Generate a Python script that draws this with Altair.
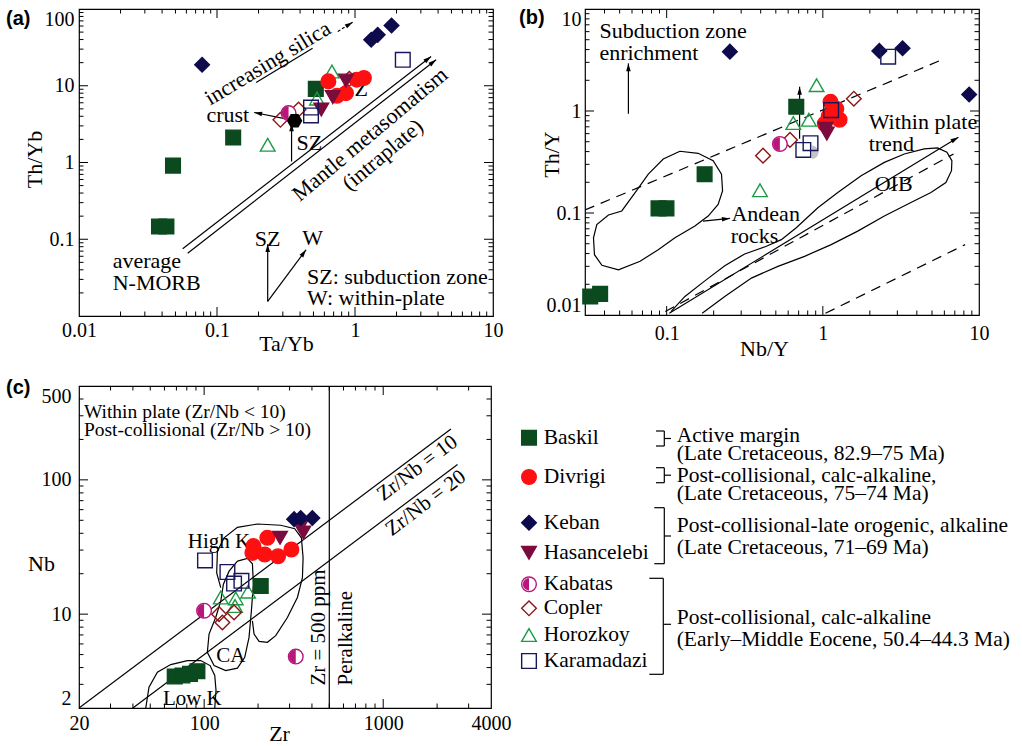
import altair as alt
import pandas as pd

SERIF = "Liberation Serif"
SANS = "Liberation Sans"

# ---------------- sample groups (legend order) ----------------
groups = ["Baskil", "Divrigi", "Keban", "Hasancelebi", "Kabatas", "Copler", "Horozkoy", "Karamadazi"]
group_shapes = ["square", "circle", "diamond", "triangle-down", "circle", "diamond", "triangle-up", "square"]
group_strokes = ["#0b4a1e", "#ff1010", "#0d0b4b", "#7a0c3e", "#b8167a", "#8c1414", "#1c9a46", "#17175c"]
group_fills = ["#0b4a1e", "#ff1010", "#0d0b4b", "#7a0c3e", "white", "transparent", "transparent", "transparent"]
group_sizes = [215, 215, 175, 205, 185, 155, 195, 175]
KAB = "#b8167a"

LEFT_HALF = "M0,-1A1,1,0,0,0,0,1Z"
RIGHT_HALF = "M0,-1A1,1,0,0,1,0,1Z"
HEXAGON = "M-1,0L-0.5,-0.87L0.5,-0.87L1,0L0.5,0.87L-0.5,0.87Z"
ARROW = "M0,0L0.55,1.9L-0.55,1.9Z"

# ---------------- (a) Ta/Yb vs Th/Yb ----------------
a_group = (["Baskil"] * 5 + ["Horozkoy"] * 3 + ["Copler"] * 3 + ["Divrigi"] * 5
           + ["Hasancelebi"] * 3 + ["Keban"] * 4 + ["Kabatas"] + ["Karamadazi"] * 3)
a_ta_yb = [0.038, 0.043, 0.048, 0.131, 0.52,
           0.233, 0.68, 0.53,
           0.288, 0.39, 0.91,
           0.641, 1.03, 1.16, 0.74, 0.86,
           0.86, 0.69, 0.57,
           0.078, 1.31, 1.46, 1.84,
           0.33,
           0.48, 0.48, 2.22]
a_th_yb = [0.147, 0.147, 0.91, 2.12, 9.1,
           1.70, 15.3, 6.8,
           3.6, 4.9, 12.3,
           11.4, 12.0, 12.6, 7.4, 8.0,
           11.7, 7.1, 4.9,
           18.8, 39.7, 46.1, 61,
           4.4,
           5.2, 4.1, 21.8]
a_crust_x = [0.365]
a_crust_y = [3.5]

a_arrow1 = ([0.0564, 3.56], [0.0752, 24.1])
a_arrow2 = ([0.0613, 3.87], [0.0658, 21.8])
a_silica = ([0.192, 0.493], [11.0, 30.8])
a_silica_arrow = ([0.75, 0.962], [50.9, 67.3])
a_crust_arrow = ([0.316, 0.186], [3.71, 4.48])
a_sz_arrow = ([0.347, 0.347], [1.03, 3.25])
a_key_sz = ([0.233, 0.233], [0.0155, 0.0863])
a_key_w = ([0.233, 0.442], [0.0155, 0.073])
a_head_x = [3.56, 3.87, 0.962, 0.186, 0.347, 0.233, 0.442]
a_head_y = [24.1, 21.8, 67.3, 4.48, 3.25, 0.0863, 0.073]
a_head_ang = [52, 52, 58, 281, 0, 0, 36]

a_txt_c = ["increasing silica", "crust", "SZ", "Mantle metasomatism", "(intraplate)", "SZ", "W"]
a_txt_c_x = [0.233, 0.1197, 0.467, 1.285, 1.585, 0.233, 0.494]
a_txt_c_y = [19.7, 4.18, 1.78, 2.34, 1.26, 0.1014, 0.103]
a_txt_c_ang = [329, 0, 0, 320, 320, 0, 0]
a_txt_l = ["average", "N-MORB", "SZ: subduction zone", "W: within-plate"]
a_txt_l_x = [0.01754, 0.01754, 0.449, 0.449]
a_txt_l_y = [0.0513, 0.0267, 0.0327, 0.0174]
a_txt_under = ["SZ"]
a_txt_under_x = [1.0]
a_txt_under_y = [8.94]

# ---------------- (b) Nb/Y vs Th/Y ----------------
b_group = (["Baskil"] * 6 + ["Horozkoy"] * 4 + ["Copler"] * 3 + ["Divrigi"] * 5
           + ["Hasancelebi"] * 2 + ["Keban"] * 4 + ["Kabatas"] + ["Karamadazi"] * 4)
b_nb_y = [0.0324, 0.0375, 0.0887, 0.0997, 0.175, 0.676,
          0.912, 0.647, 0.814, 0.396,
          0.414, 0.616, 1.58,
          1.12, 1.22, 1.03, 1.28, 1.09,
          1.04, 1.06,
          0.254, 2.30, 3.24, 8.65,
          0.531,
          2.62, 1.13, 0.834, 0.75]
b_th_y = [0.0152, 0.0161, 0.111, 0.111, 0.240, 1.10,
          1.79, 0.762, 0.82, 0.167,
          0.365, 0.521, 1.32,
          1.23, 1.05, 0.75, 0.82, 0.89,
          0.67, 0.60,
          3.82, 3.88, 4.12, 1.45,
          0.475,
          3.41, 1.02, 0.483, 0.415]
b_grey_x = [0.85]
b_grey_y = [0.394]

b_andean_x = [0.1216, 0.159, 0.1985, 0.2245, 0.228, 0.2136, 0.1844, 0.1517, 0.113, 0.0883, 0.0676,
              0.0491, 0.0385, 0.0345, 0.034, 0.0357, 0.0424, 0.0516, 0.0628, 0.0763, 0.0951, 0.1216]
b_andean_y = [0.403, 0.385, 0.326, 0.2405, 0.165, 0.1216, 0.0933, 0.0744, 0.0571, 0.0437, 0.0336,
              0.0277, 0.0307, 0.039, 0.0571, 0.077, 0.0955, 0.1047, 0.1585, 0.2405, 0.338, 0.403]
b_oib_x = [0.1065, 0.1309, 0.1756, 0.2356, 0.316, 0.435, 0.5425, 0.676, 0.929, 1.247, 1.759, 2.477,
           3.325, 4.457, 5.426, 6.229, 6.705, 6.666, 6.137, 4.922, 3.668, 2.477, 1.673, 1.131, 0.764,
           0.516, 0.349, 0.2356, 0.1688]
b_oib_y = [0.0108, 0.0152, 0.0216, 0.0304, 0.0397, 0.0472, 0.0548, 0.0716, 0.1127, 0.1587, 0.2317,
           0.3137, 0.379, 0.4246, 0.4345, 0.3938, 0.326, 0.2598, 0.199, 0.1587, 0.1265, 0.0934, 0.0664,
           0.049, 0.0376, 0.030, 0.023, 0.0152, 0.0104]
b_dash1 = ([0.03, 6.08], [0.107, 3.28])
b_dash2 = ([0.098, 6.87], [0.0108, 0.379])
b_dash3 = ([1.04, 8.15], [0.0104, 0.049])
b_trend = ([0.104, 7.38], [0.0104, 0.553])
b_sze = ([0.0569, 0.0569], [0.94, 2.93])
b_andean_arrow = ([0.171, 0.254], [0.0834, 0.0885])
b_baskil_arrow = ([0.71, 0.71], [0.533, 1.73])
b_head_x = [7.38, 0.0569, 0.254, 0.71]
b_head_y = [0.553, 2.93, 0.0885, 1.73]
b_head_ang = [59, 0, 84, 0]

b_txt_l = ["Subduction zone", "enrichment", "Within plate", "trend", "Andean", "rocks"]
b_txt_l_x = [0.0371, 0.0371, 1.966, 1.966, 0.26, 0.2574]
b_txt_l_y = [6.03, 3.68, 0.778, 0.475, 0.0968, 0.0593]
b_txt_c = ["OIB"]
b_txt_c_x = [2.84]
b_txt_c_y = [0.191]

# ---------------- (c) Zr vs Nb ----------------
c_group = (["Baskil"] * 5 + ["Horozkoy"] * 4 + ["Copler"] * 3 + ["Divrigi"] * 6
           + ["Hasancelebi"] * 3 + ["Keban"] * 3 + ["Kabatas"] * 2 + ["Karamadazi"] * 4)
c_zr = [68.5, 75.6, 83.4, 91.7, 207,
        123.8, 150.1, 175.9, 148.8,
        121.1, 126.4, 146.9,
        188.4, 225.4, 186.0, 217.9, 258.6, 307,
        265.3, 347.5, 358,
        318, 346, 402,
        99.9, 324.8,
        101.1, 134.9, 146.9, 161.5]
c_nb = [3.43, 3.49, 3.59, 3.76, 16.2,
        13.3, 13.1, 14.7, 11.5,
        10.0, 8.67, 10.3,
        32.1, 37.0, 28.6, 27.8, 27.0, 30.3,
        37.0, 45.5, 40.5,
        51, 52, 52,
        10.6, 4.83,
        25.1, 20.6, 16.9, 17.7]

c_highk_zr = [123.8, 117.5, 118.6, 129.2, 153.4, 198.4, 267.9, 320.6, 349.3, 356.9, 353.9, 331.8,
              291.7, 251.0, 225.6, 202.6, 190.0, 186.0]
c_highk_nb = [15.75, 20.3, 29.4, 37.0, 44.3, 46.9, 45.9, 43.3, 37.0, 26.3, 18.7, 13.3,
              9.44, 6.91, 6.17, 6.27, 7.11, 8.92]
c_ca_zr = [153.4, 174.4, 186.0, 188.4, 183.6, 178.1, 168.5, 153.4, 132.0, 113.6, 104.2, 106.5,
           116.0, 123.8, 128.1, 137.8, 153.4]
c_ca_nb = [24.8, 26.0, 23.7, 16.7, 10.6, 6.71, 4.77, 3.96, 3.80, 4.14, 5.20, 7.11,
           9.44, 12.5, 16.7, 20.9, 24.8]
c_lowk_zr = [47.2, 49.2, 54.8, 65.1, 80.6, 95.7, 107.9, 114.6, 116.5, 114.6]
c_lowk_nb = [2.0, 2.86, 3.70, 4.21, 4.51, 4.51, 4.14, 3.49, 2.70, 2.0]
c_ratio10 = ([20, 2390], [2, 239])
c_ratio20 = ([40, 2600], [2, 130])
c_zr500 = ([500, 500], [2, 500])

c_txt_top = ["Within plate (Zr/Nb < 10)", "Post-collisional (Zr/Nb > 10)"]
c_txt_top_x = [21.3, 21.3]
c_txt_top_y = [320, 234.6]
c_txt_c = ["High K", "CA", "Low K", "Zr/Nb = 10", "Zr/Nb = 20", "Zr = 500 ppm", "Peralkaline"]
c_txt_c_x = [121.1, 140.8, 85.9, 1553, 1730, 438.5, 618]
c_txt_c_y = [34.5, 4.91, 2.35, 121.9, 67.1, 7.96, 6.62]
c_txt_c_ang = [0, 0, 0, 323, 323, 270, 270]

# ---------------- legend block (page-pixel layout offsets, x from 500, y from 385) ----------------
leg_row_y = [51.7, 91, 136.7, 166.7, 198.3, 222.3, 249, 275]
leg_desc = ["Active margin", "(Late Cretaceous, 82.9\u201375 Ma)",
            "Post-collisional, calc-alkaline,", "(Late Cretaceous, 75\u201374 Ma)",
            "Post-collisional-late orogenic, alkaline", "(Late Cretaceous, 71\u201369 Ma)",
            "Post-collisional, calc-alkaline", "(Early\u2013Middle Eocene, 50.4\u201344.3 Ma)"]
leg_desc_y = [50, 68.3, 90, 108.3, 140, 161.7, 232.3, 254.3]
brk_x1 = [163.3, 155, 155, 163.3, 163.3, 155, 155, 163.3, 163.3, 153.3, 153.3, 163.3, 162.3, 148.3, 148.3, 162.3]
brk_x2 = [163.3, 163.3, 163.3, 170, 163.3, 163.3, 163.3, 170, 163.3, 163.3, 163.3, 170, 162.3, 162.3, 162.3, 170]
brk_y1 = [45, 45, 60, 52.5, 81.7, 81.7, 96.7, 89.2, 121.7, 121.7, 177.7, 150, 192.3, 192.3, 288.3, 238.3]
brk_y2 = [60, 45, 60, 52.5, 96.7, 81.7, 96.7, 89.2, 177.7, 121.7, 177.7, 150, 288.3, 192.3, 288.3, 238.3]


# ---------------- helpers ----------------
def minor_ticks(lo, hi):
    out = []
    for e in range(-3, 5):
        for m in range(2, 10):
            v = m * 10.0 ** e
            if lo * 1.001 < v < hi * 0.999:
                out.append(v)
    return out


def major_ticks(lo, hi):
    return [10.0 ** e for e in range(-3, 5) if lo * 1.001 < 10.0 ** e < hi * 0.999]


class Panel:
    def __init__(self, xs, ys, xaxis, yaxis):
        self.xs, self.ys, self.xaxis, self.yaxis = xs, ys, xaxis, yaxis

    def xy(self):
        return dict(x=alt.X("x:Q", scale=self.xs, axis=self.xaxis),
                    y=alt.Y("y:Q", scale=self.ys, axis=self.yaxis))

    def ticks(self, xdom, ydom, W, H):
        layers = []
        for vals, L in ((major_ticks(*xdom), 9), (minor_ticks(*xdom), 4.5)):
            base = alt.Chart(pd.DataFrame({"x": vals})).mark_rule(color="black", strokeWidth=1)
            xe = alt.X("x:Q", scale=self.xs, axis=self.xaxis)
            layers.append(base.encode(x=xe, y=alt.value(H), y2=alt.value(H - L)))
            layers.append(base.encode(x=xe, y=alt.value(0), y2=alt.value(L)))
        for vals, L in ((major_ticks(*ydom), 9), (minor_ticks(*ydom), 4.5)):
            base = alt.Chart(pd.DataFrame({"y": vals})).mark_rule(color="black", strokeWidth=1)
            ye = alt.Y("y:Q", scale=self.ys, axis=self.yaxis)
            layers.append(base.encode(y=ye, x=alt.value(0), x2=alt.value(L)))
            layers.append(base.encode(y=ye, x=alt.value(W), x2=alt.value(W - L)))
        return layers

    def lines(self, segs, dash=None, width=1.2):
        rows = []
        for i, (sx, sy) in enumerate(segs):
            for j, (u, v) in enumerate(zip(sx, sy)):
                rows.append({"x": u, "y": v, "id": i, "o": j})
        kw = dict(color="black", strokeWidth=width, clip=True)
        if dash:
            kw["strokeDash"] = dash
        return alt.Chart(pd.DataFrame(rows)).mark_line(**kw).encode(
            **self.xy(), detail="id:N", order="o:Q")

    def heads(self, hx, hy, ha):
        df = pd.DataFrame({"x": hx, "y": hy, "a": ha})
        return alt.Chart(df).mark_point(shape=ARROW, filled=True, color="black", size=70,
                                        opacity=1).encode(**self.xy(), angle=alt.Angle("a:Q", scale=None))

    def text(self, tt, tx, ty, align="center", size=22, angles=None):
        df = pd.DataFrame({"x": tx, "y": ty, "t": tt, "a": angles if angles else [0] * len(tt)})
        return alt.Chart(df).mark_text(font=SERIF, fontSize=size, align=align, baseline="middle",
                                       color="black").encode(
            **self.xy(), text="t:N", angle=alt.Angle("a:Q", scale=None))

    def single(self, px, py, shape, color, size):
        df = pd.DataFrame({"x": px, "y": py})
        return alt.Chart(df).mark_point(shape=shape, filled=True, color=color, size=size,
                                        opacity=1).encode(**self.xy())

    def points(self, px, py, pg, k=1.0):
        df = pd.DataFrame({"x": px, "y": py, "group": pg})
        sizes = [s * k for s in group_sizes]
        main = alt.Chart(df).mark_point(opacity=1, strokeWidth=1.4).encode(
            **self.xy(),
            shape=alt.Shape("group:N", scale=alt.Scale(domain=groups, range=group_shapes), legend=None),
            fill=alt.Fill("group:N", scale=alt.Scale(domain=groups, range=group_fills), legend=None),
            stroke=alt.Stroke("group:N", scale=alt.Scale(domain=groups, range=group_strokes), legend=None),
            size=alt.Size("group:N", scale=alt.Scale(domain=groups, range=sizes), legend=None),
        )
        half = alt.Chart(df).transform_filter(alt.datum.group == "Kabatas").mark_point(
            shape=LEFT_HALF, filled=True, color=KAB, size=group_sizes[4] * k, opacity=1).encode(**self.xy())
        return [main, half]


def letter_layer(t, x, y):
    return alt.Chart(alt.Data(values=[{}])).mark_text(
        font=SANS, fontWeight="bold", fontSize=20, align="left", baseline="middle", color="black"
    ).encode(x=alt.value(x), y=alt.value(y), text=alt.value(t))


def bottom_axis(vals, title, tx, ty, pad):
    return alt.Axis(values=vals, format="~g", title=title, ticks=False, grid=False, domain=False,
                    labelFont=SERIF, labelFontSize=20, labelColor="black", labelPadding=pad,
                    labelOverlap=False, labelFlush=False,
                    titleFont=SERIF, titleFontSize=22, titleFontWeight="normal", titleColor="black",
                    titleX=tx, titleY=ty, titleAlign="center", titleBaseline="middle", titleAngle=0)


def left_axis(vals, title, tx, ty, pad, angle=270):
    return alt.Axis(values=vals, format="~g", title=title, ticks=False, grid=False, domain=False,
                    labelFont=SERIF, labelFontSize=20, labelColor="black", labelPadding=pad,
                    labelOverlap=False, labelFlush=True,
                    titleFont=SERIF, titleFontSize=22, titleFontWeight="normal", titleColor="black",
                    titleX=tx, titleY=ty, titleAlign="center", titleBaseline="middle", titleAngle=angle)


# ---------------- panel (a) ----------------
WA, HA = 414, 307
xa_dom, ya_dom = (0.01, 10), (0.01, 100)
pa = Panel(alt.Scale(type="log", domain=list(xa_dom), nice=False),
           alt.Scale(type="log", domain=list(ya_dom), nice=False),
           bottom_axis([0.01, 0.1, 1, 10], "Ta/Yb", 207, 27, 4),
           left_axis([0.1, 1, 10, 100], "Th/Yb", -45, 150, 5))
layers_a = [
    pa.text(a_txt_under, a_txt_under_x, a_txt_under_y),
    pa.lines([a_arrow1, a_arrow2, a_silica, a_crust_arrow, a_sz_arrow, a_key_sz, a_key_w]),
    pa.lines([a_silica_arrow], dash=[3, 2]),
] + pa.points(a_ta_yb, a_th_yb, a_group) + [
    pa.single(a_crust_x, a_crust_y, HEXAGON, "black", 240),
    pa.heads(a_head_x, a_head_y, a_head_ang),
    pa.text(a_txt_c, a_txt_c_x, a_txt_c_y, angles=a_txt_c_ang),
    pa.text(a_txt_l, a_txt_l_x, a_txt_l_y, align="left"),
    letter_layer("(a)", -73, 9.5),
] + pa.ticks(xa_dom, ya_dom, WA, HA)
panel_a = alt.layer(*layers_a).properties(width=WA, height=HA)

# ---------------- panel (b) ----------------
WB, HB = 394, 306
xb_dom, yb_dom = (0.03, 10), (0.01, 10)
pb = Panel(alt.Scale(type="log", domain=list(xb_dom), nice=False),
           alt.Scale(type="log", domain=list(yb_dom), nice=False),
           bottom_axis([0.1, 1, 10], "Nb/Y", 179, 33, 8),
           left_axis([0.01, 0.1, 1, 10], "Th/Y", -34, 145, 4))
layers_b = [
    pb.lines([(b_andean_x, b_andean_y), (b_oib_x, b_oib_y), b_trend, b_sze, b_andean_arrow, b_baskil_arrow]),
    pb.lines([b_dash1, b_dash2, b_dash3], dash=[10, 7]),
    pb.single(b_grey_x, b_grey_y, RIGHT_HALF, "#c4c4c4", 180),
] + pb.points(b_nb_y, b_th_y, b_group) + [
    pb.heads(b_head_x, b_head_y, b_head_ang),
    pb.text(b_txt_l, b_txt_l_x, b_txt_l_y, align="left"),
    pb.text(b_txt_c, b_txt_c_x, b_txt_c_y),
    letter_layer("(b)", -66, 9.2),
] + pb.ticks(xb_dom, yb_dom, WB, HB)
panel_b = alt.layer(*layers_b).properties(width=WB, height=HB)

# ---------------- panel (c) ----------------
WC, HC = 412, 322
xc_dom, yc_dom = (20, 4000), (2, 500)
pc = Panel(alt.Scale(type="log", domain=list(xc_dom), nice=False),
           alt.Scale(type="log", domain=list(yc_dom), nice=False),
           bottom_axis([20, 100, 1000, 4000], "Zr", 200, 25, 5),
           left_axis([2, 10, 100, 500], "Nb", -38, 177, 8, angle=0))
layers_c = [
    pc.lines([(c_highk_zr, c_highk_nb), (c_ca_zr, c_ca_nb), (c_lowk_zr, c_lowk_nb),
              c_ratio10, c_ratio20, c_zr500]),
    pc.text(c_txt_c, c_txt_c_x, c_txt_c_y, size=21, angles=c_txt_c_ang),
] + pc.points(c_zr, c_nb, c_group) + [
    pc.text(c_txt_top, c_txt_top_x, c_txt_top_y, align="left", size=19.5),
    letter_layer("(c)", -73, 2.2),
] + pc.ticks(xc_dom, yc_dom, WC, HC)
panel_c = alt.layer(*layers_c).properties(width=WC, height=HC)

# ---------------- legend block (sits in column 2, starting 84 px left of it) ----------------
WL, HL = 394, 322
pl = Panel(alt.Scale(domain=[84, 84 + WL], nice=False, zero=False),
           alt.Scale(domain=[HL, 0], nice=False, zero=False), None, None)
layers_l = pl.points([28] * len(groups), leg_row_y, groups, k=0.8) + [
    pl.text(groups, [42.7] * len(groups), leg_row_y, align="left", size=21.5),
    pl.text(leg_desc, [175.7] * len(leg_desc), leg_desc_y, align="left", size=21.5),
    alt.Chart(pd.DataFrame({"x": brk_x1, "x2": brk_x2, "y": brk_y1, "y2": brk_y2})).mark_rule(
        color="black", strokeWidth=1.2).encode(
        x=alt.X("x:Q", scale=pl.xs, axis=None), x2="x2:Q",
        y=alt.Y("y:Q", scale=pl.ys, axis=None), y2="y2:Q"),
]
legend_block = alt.layer(*layers_l).properties(
    width=WL, height=HL, view=alt.ViewBackground(stroke="transparent"))

chart = alt.concat(panel_a, panel_b, panel_c, legend_block, columns=2,
                   spacing={"row": 70, "column": 92}, bounds="flush").properties(
    padding={"left": 5, "top": 7, "right": 0, "bottom": 0},
    background="white",
).configure_view(stroke="black", strokeWidth=1.2)

chart.save("out.html", embed_options={"renderer": "svg", "actions": False})
